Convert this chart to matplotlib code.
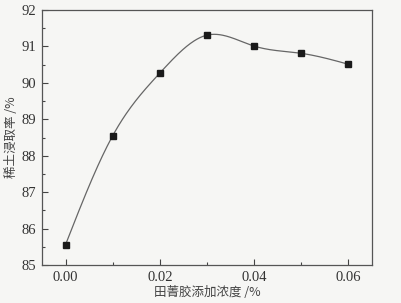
import numpy as np
import matplotlib
matplotlib.use('Agg')
import matplotlib.pyplot as plt
from matplotlib.ticker import MultipleLocator

# data
conc = [0.00, 0.01, 0.02, 0.03, 0.04, 0.05, 0.06]
rate = [85.56, 88.55, 90.27, 91.31, 91.01, 90.81, 90.51]

xlabel = '田菁胶添加浓度 /%'
ylabel = '稀土浸取率 /%'


def natural_spline(x, y, n=300):
	# plain natural cubic spline, just for drawing the smooth line
	x = np.asarray(x, float)
	y = np.asarray(y, float)
	k = len(x)
	h = np.diff(x)
	A = np.zeros((k, k))
	b = np.zeros(k)
	A[0, 0] = A[-1, -1] = 1
	for i in range(1, k - 1):
		A[i, i - 1] = h[i - 1]
		A[i, i] = 2 * (h[i - 1] + h[i])
		A[i, i + 1] = h[i]
		b[i] = 6 * ((y[i + 1] - y[i]) / h[i] - (y[i] - y[i - 1]) / h[i - 1])
	M = np.linalg.solve(A, b)
	xs = np.linspace(x[0], x[-1], n)
	idx = np.clip(np.searchsorted(x, xs) - 1, 0, k - 2)
	x0, x1 = x[idx], x[idx + 1]
	hh = x1 - x0
	ys = (M[idx] * (x1 - xs)**3 / (6 * hh) + M[idx + 1] * (xs - x0)**3 / (6 * hh)
		+ (y[idx] / hh - M[idx] * hh / 6) * (x1 - xs)
		+ (y[idx + 1] / hh - M[idx + 1] * hh / 6) * (xs - x0))
	return xs, ys


bg = '#f6f6f4'
fig = plt.figure(figsize=(4.01, 3.03), dpi=100, facecolor=bg)
ax = fig.add_axes([42 / 401, 1 - 265 / 303, 330 / 401, 255 / 303], facecolor=bg)

xs, ys = natural_spline(conc, rate)
ax.plot(xs, ys, color='#666666', lw=0.9)
ax.plot(conc, rate, ls='none', marker='s', ms=4.5, mfc='#1a1a1a', mec='#1a1a1a')

ax.set_xlim(-0.005, 0.065)
ax.set_ylim(85, 92)
ax.xaxis.set_major_locator(MultipleLocator(0.02))
ax.xaxis.set_minor_locator(MultipleLocator(0.01))
ax.yaxis.set_major_locator(MultipleLocator(1))
ax.yaxis.set_minor_locator(MultipleLocator(0.5))
ax.xaxis.set_major_formatter(plt.FormatStrFormatter('%.2f'))

ax.tick_params(which='both', direction='in', colors='#444444', width=0.8)
ax.tick_params(which='major', length=4, labelsize=10.5, labelcolor='#333333', pad=4)
ax.tick_params(which='minor', length=2)
for lab in ax.get_xticklabels() + ax.get_yticklabels():
	lab.set_family('Liberation Serif')
for sp in ax.spines.values():
	sp.set_color('#555555')
	sp.set_linewidth(0.9)

ax.set_xlabel(xlabel, family=['Noto Sans CJK SC', 'DejaVu Sans'], fontsize=9, color='#444444', labelpad=2)
ax.set_ylabel(ylabel, family=['Noto Sans CJK SC', 'DejaVu Sans'], fontsize=9, color='#444444', labelpad=3)

plt.savefig('out.png', dpi=100, facecolor=bg)
